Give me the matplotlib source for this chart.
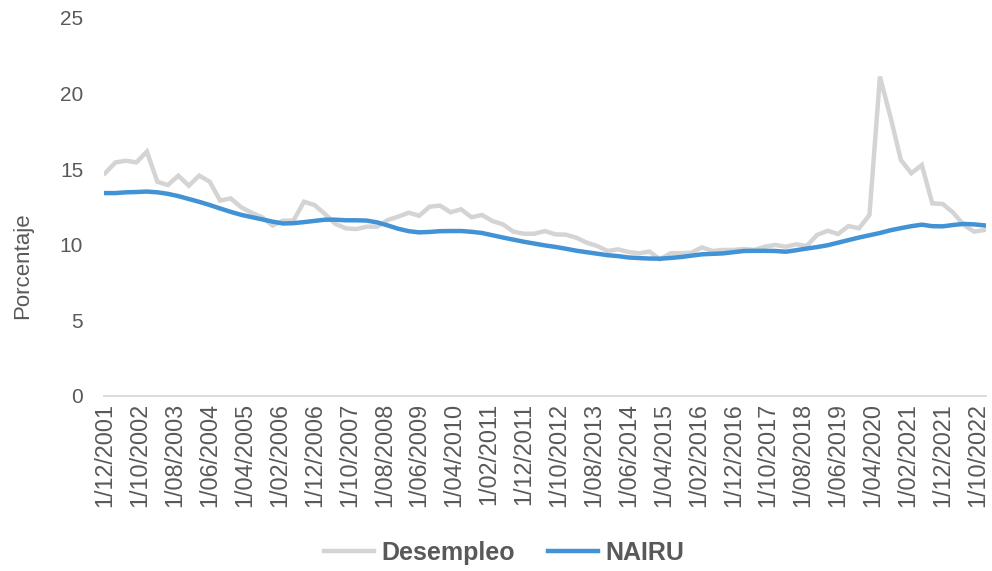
import matplotlib
matplotlib.use('Agg')
import matplotlib.pyplot as plt

# quarterly data, Dec 2001 .. Dec 2022 (months counted from Dec 2001)
months = list(range(0, 253, 3))

desempleo = [14.73, 15.45, 15.56, 15.45, 16.16, 14.17, 13.95, 14.57, 13.91, 14.57,
             14.17, 12.92, 13.07, 12.48, 12.12, 11.82, 11.28, 11.6, 11.6, 12.85,
             12.63, 12.04, 11.38, 11.09, 11.04, 11.2, 11.2, 11.64, 11.86, 12.12,
             11.92, 12.52, 12.59, 12.15, 12.35, 11.82, 11.97, 11.57, 11.35, 10.87,
             10.73, 10.73, 10.91, 10.69, 10.67, 10.47, 10.14, 9.92, 9.59, 9.70,
             9.52, 9.44, 9.55, 9.04, 9.44, 9.44, 9.48, 9.83, 9.59, 9.66,
             9.66, 9.72, 9.66, 9.87, 9.99, 9.87, 10.03, 9.92, 10.65, 10.93,
             10.71, 11.24, 11.09, 11.97, 21.12, 18.47, 15.61, 14.73, 15.28, 12.74,
             12.7, 12.12, 11.31, 10.87, 10.98]

nairu = [13.42, 13.42, 13.47, 13.49, 13.52, 13.47, 13.37, 13.22, 13.03, 12.84,
         12.63, 12.4, 12.18, 11.98, 11.83, 11.68, 11.53, 11.41, 11.43, 11.5,
         11.58, 11.66, 11.66, 11.62, 11.62, 11.6, 11.48, 11.28, 11.06, 10.9,
         10.82, 10.85, 10.9, 10.91, 10.91, 10.86, 10.78, 10.63, 10.48, 10.34,
         10.2, 10.08, 9.96, 9.86, 9.74, 9.61, 9.51, 9.41, 9.31, 9.25,
         9.16, 9.12, 9.09, 9.08, 9.13, 9.19, 9.28, 9.37, 9.4, 9.43,
         9.51, 9.59, 9.6, 9.6, 9.59, 9.54, 9.64, 9.75, 9.85, 9.97,
         10.14, 10.31, 10.48, 10.63, 10.78, 10.96, 11.1, 11.23, 11.33, 11.23,
         11.22, 11.31, 11.38, 11.35, 11.28]

tick_months = list(range(0, 251, 10))
tick_labels = ['1/12/2001', '1/10/2002', '1/08/2003', '1/06/2004', '1/04/2005',
               '1/02/2006', '1/12/2006', '1/10/2007', '1/08/2008', '1/06/2009',
               '1/04/2010', '1/02/2011', '1/12/2011', '1/10/2012', '1/08/2013',
               '1/06/2014', '1/04/2015', '1/02/2016', '1/12/2016', '1/10/2017',
               '1/08/2018', '1/06/2019', '1/04/2020', '1/02/2021', '1/12/2021',
               '1/10/2022']

plt.rcParams['font.family'] = ['Liberation Sans', 'DejaVu Sans']
txt = '#595959'

fig = plt.figure(figsize=(9.92, 5.71), dpi=100)
ax = fig.add_axes([0.1048, 0.3065, 0.8892, 0.662])

ax.plot(months, desempleo, color='#d4d4d4', lw=3.2, label='Desempleo', solid_joinstyle='miter')
ax.plot(months, nairu, color='#4292d6', lw=3.2, label='NAIRU')

ax.set_xlim(-0.3, 252.4)
ax.set_ylim(0, 25)
ax.set_yticks([0, 5, 10, 15, 20, 25])
ax.set_xticks(tick_months)
ax.set_xticklabels(tick_labels, rotation=90)
ax.tick_params(axis='x', length=0, pad=5, labelsize=16.8, labelcolor=txt)
ax.tick_params(axis='y', length=0, pad=15, labelsize=15, labelcolor=txt)

for s in ['top', 'right', 'left']:
    ax.spines[s].set_visible(False)
ax.spines['bottom'].set_color('#d9d9d9')
ax.spines['bottom'].set_linewidth(1.3)

fig.text(23/992, 0.535, 'Porcentaje', rotation=90, ha='center', va='center',
         fontsize=16, color=txt)

leg = fig.legend(loc='center', bbox_to_anchor=(0.508, 0.0315), ncol=2, frameon=False,
                 handlelength=2.0, handletextpad=0.3, columnspacing=1.3,
                 prop={'size': 18, 'weight': 'bold'})
for t in leg.get_texts():
    t.set_color(txt)

fig.savefig('out.png', dpi=100)
